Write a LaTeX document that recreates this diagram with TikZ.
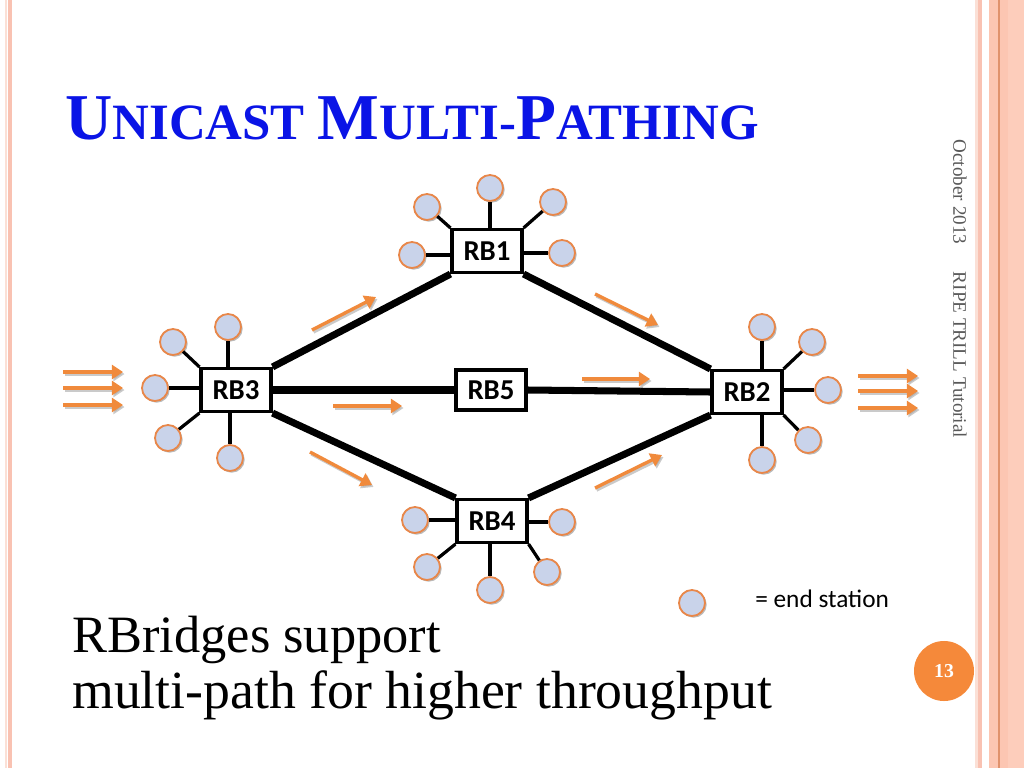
\documentclass[tikz,border=0pt]{standalone}
\usepackage{fontspec}
\setmainfont{Liberation Serif}
\newfontfamily\calibfont{Carlito}
\usetikzlibrary{arrows.meta,shadows}
\definecolor{titleblue}{HTML}{0A14E6}
\definecolor{stfill}{HTML}{C9D3EA}
\definecolor{stedge}{HTML}{E8874A}
\definecolor{arrorange}{HTML}{F08A3C}
\definecolor{pagecirc}{HTML}{F5893A}
\definecolor{sidegray}{HTML}{595959}
\definecolor{stripeA}{HTML}{FBE0D6}
\definecolor{stripeB}{HTML}{F9C2B2}
\definecolor{stripeC}{HTML}{FCC6B2}
\definecolor{stripeD}{HTML}{E0926C}
\definecolor{stripeE}{HTML}{FDCDBB}
\newcommand{\tbig}{\fontsize{46.5}{50}\selectfont}
\newcommand{\tsmall}{\fontsize{36.2}{40}\selectfont}
\tikzset{
  rbbox/.style={draw, line width=2.2pt, fill=white, minimum width=1.75cm, minimum height=1.075cm, inner sep=0pt, font=\calibfont\bfseries\fontsize{20.5}{22}\selectfont},
  station/.style={circle, draw=stedge, line width=1.3pt, fill=stfill, minimum size=0.65cm, inner sep=0pt, drop shadow={shadow xshift=1.2pt, shadow yshift=-1.2pt, fill=black!45, opacity=0.6}},
  trunk/.style={line width=5pt},
  spoke/.style={line width=2.3pt},
  flow/.style={draw=arrorange, line width=2.4pt, -{Triangle[width=10pt,length=8pt]}},
  flowshadow/.style={draw=black!35, line width=2.4pt, opacity=0.6, -{Triangle[width=10pt,length=8pt]}},
}
\begin{document}
\begin{tikzpicture}[x=0.025cm,y=-0.025cm]
\useasboundingbox (0,0) rectangle (1024,768);
% border stripes
\fill[stripeA] (5,0) rectangle (7,768);
\fill[stripeB] (8,0) rectangle (12,768);
\fill[stripeA] (975,0) rectangle (978,768);
\fill[stripeB] (978,0) rectangle (982,768);
\fill[stripeC] (989,0) rectangle (1024,768);
\fill[stripeE] (1008,0) rectangle (1024,768);
\fill[stripeD] (998,0) rectangle (999.5,768);
% title
\node[anchor=base west, inner sep=0pt, text=titleblue, font=\bfseries] (title) at (65,140)
  {\tbig U\tsmall NICAST \tbig M\tsmall ULTI-\tbig P\tsmall ATHING};
% side texts
\node[rotate=-90, text=sidegray, font=\fontsize{13.6}{16}\selectfont] (date) at (960,192) {October 2013};
\node[rotate=-90, text=sidegray, font=\fontsize{13.6}{16}\selectfont] (event) at (960,355) {RIPE TRILL Tutorial};
% page number
\node[circle, fill=pagecirc, minimum size=1.5cm, inner sep=0pt, text=white, font=\bfseries\fontsize{14}{16}\selectfont] (page) at (944,671) {13};
% body text
\node[anchor=base west, inner sep=0pt, font=\fontsize{37.3}{40}\selectfont] (line1) at (72,652) {RBridges support};
\node[anchor=base west, inner sep=0pt, font=\fontsize{38.2}{40}\selectfont] (line2) at (72,708) {multi-path for higher throughput};
% RBridges
\node[rbbox] (rb1) at (487,251) {RB1};
\node[rbbox] (rb3) at (236,390) {RB3};
\node[rbbox] (rb2) at (747,392) {RB2};
\node[rbbox] (rb4) at (492,521) {RB4};
\node[rbbox, minimum height=1.0cm] (rb5) at (491,390) {RB5};
% trunks
\draw[trunk] (rb3.north east) -- (rb1.south west);
\draw[trunk] (rb1.south east) -- (rb2.north west);
\draw[trunk] (rb3.east) -- (rb5.west);
\draw[trunk] (rb5.east) -- (rb2.west);
\draw[trunk] (rb3.south east) -- (rb4.north west);
\draw[trunk] (rb4.north east) -- (rb2.south west);
% stations RB1
\node[station] (s1t) at (490,188) {};
\node[station] (s1ul) at (427,207) {};
\node[station] (s1ur) at (553,202) {};
\node[station] (s1l) at (412,255) {};
\node[station] (s1r) at (562,253) {};
\draw[spoke] (s1t |- rb1.north) -- (s1t);
\draw[spoke] (rb1.north west) -- (s1ul);
\draw[spoke] (rb1.north east) -- (s1ur);
\draw[spoke] (s1l -| rb1.west) -- (s1l);
\draw[spoke] (s1r -| rb1.east) -- (s1r);
% stations RB3
\node[station] (s3t) at (228,327) {};
\node[station] (s3ul) at (173,342) {};
\node[station] (s3l) at (155,388) {};
\node[station] (s3ll) at (168,438) {};
\node[station] (s3b) at (230,458) {};
\draw[spoke] (s3t |- rb3.north) -- (s3t);
\draw[spoke] (rb3.north west) -- (s3ul);
\draw[spoke] (s3l -| rb3.west) -- (s3l);
\draw[spoke] (rb3.south west) -- (s3ll);
\draw[spoke] (s3b |- rb3.south) -- (s3b);
% stations RB2
\node[station] (s2t) at (762,327) {};
\node[station] (s2ur) at (812,342) {};
\node[station] (s2r) at (828,390) {};
\node[station] (s2lr) at (808,440) {};
\node[station] (s2b) at (762,460) {};
\draw[spoke] (s2t |- rb2.north) -- (s2t);
\draw[spoke] (rb2.north east) -- (s2ur);
\draw[spoke] (s2r -| rb2.east) -- (s2r);
\draw[spoke] (rb2.south east) -- (s2lr);
\draw[spoke] (s2b |- rb2.south) -- (s2b);
% stations RB4
\node[station] (s4l) at (415,520) {};
\node[station] (s4r) at (562,522) {};
\node[station] (s4ll) at (427,567) {};
\node[station] (s4b) at (490,590) {};
\node[station] (s4lr) at (547,572) {};
\draw[spoke] (s4l -| rb4.west) -- (s4l);
\draw[spoke] (s4r -| rb4.east) -- (s4r);
\draw[spoke] (rb4.south west) -- (s4ll);
\draw[spoke] (s4b |- rb4.south) -- (s4b);
\draw[spoke] (rb4.south east) -- (s4lr);
% legend
\node[station] (legst) at (692,603) {};
\node[anchor=west, inner sep=0pt, font=\calibfont\fontsize{18}{21}\selectfont] (legtext) at (755,599) {= end station};
% flow arrows
\coordinate (f1a) at (312,330); \coordinate (f1b) at (376,297);
\coordinate (f2a) at (595,294); \coordinate (f2b) at (658,325);
\coordinate (f3a) at (333,406); \coordinate (f3b) at (402,406);
\coordinate (f4a) at (582,379); \coordinate (f4b) at (650,379);
\coordinate (f5a) at (310,452); \coordinate (f5b) at (372,485);
\coordinate (f6a) at (595,488); \coordinate (f6b) at (662,455);
\coordinate (f7a) at (63,372); \coordinate (f7b) at (123,372);
\coordinate (f8a) at (63,388); \coordinate (f8b) at (123,388);
\coordinate (f9a) at (63,405); \coordinate (f9b) at (123,405);
\coordinate (f10a) at (858,376); \coordinate (f10b) at (918,376);
\coordinate (f11a) at (858,391); \coordinate (f11b) at (918,391);
\coordinate (f12a) at (858,408); \coordinate (f12b) at (918,408);
\foreach \i in {1,...,12}{
  \draw[flowshadow] ([shift={(1.5,2)}]f\i a) -- ([shift={(1.5,2)}]f\i b);
  \draw[flow] (f\i a) -- (f\i b);
}
\end{tikzpicture}
\end{document}
